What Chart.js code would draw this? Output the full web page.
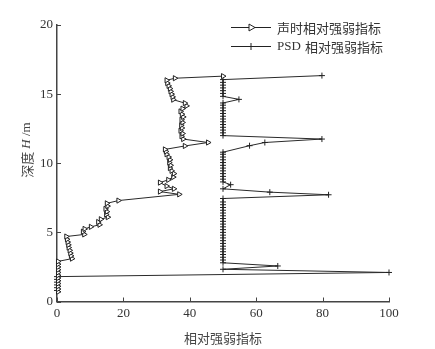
<!DOCTYPE html>
<html>
<head>
<meta charset="utf-8">
<script src="https://cdn.jsdelivr.net/npm/chart.js@4.4.1/dist/chart.umd.min.js"></script>
<style>
  body { margin: 0; background: #fff; }
</style>
</head>
<body>
<canvas id="chartDepth" width="435" height="349"></canvas>
<script>
// Profundidade (m) e índice relativo
const depthSonic = [0.7, 0.9, 1.1, 1.3, 1.5, 1.7, 1.9, 2.1, 2.3, 2.5, 2.7, 2.9,
  3.1, 3.3, 3.5, 3.7, 3.9, 4.1, 4.3, 4.5, 4.7,
  4.85, 5.05, 5.25, 5.4, 5.55, 5.75, 5.95, 6.1, 6.3, 6.5, 6.7, 6.9, 7.1, 7.3,
  7.75, 7.95, 8.15, 8.35, 8.6, 8.8, 9.0, 9.25, 9.45, 9.65, 9.85, 10.05, 10.25, 10.45, 10.65, 10.85, 11.0,
  11.25, 11.5, 11.75, 11.95, 12.15, 12.35, 12.55, 12.75, 12.95, 13.15, 13.35, 13.55, 13.75, 13.95, 14.15, 14.35,
  14.6, 14.8, 15.0, 15.2, 15.4, 15.6, 15.8, 16.0, 16.15, 16.3];
const valueSonic = [0.3, 0.3, 0.3, 0.3, 0.3, 0.3, 0.3, 0.3, 0.3, 0.3, 0.3, 0.3,
  4.5, 4.2, 4.0, 3.8, 3.5, 3.4, 3.2, 3.0, 2.8,
  8.2, 7.8, 8.3, 10.2, 12.8, 12.4, 13.2, 15.3, 14.8, 15.0, 14.6, 15.2, 15.0, 18.5,
  36.8, 31.0, 35.2, 33.0, 31.0, 33.5, 35.0, 35.2, 34.5, 34.0, 34.2, 33.8, 34.0, 33.6, 33.0, 32.8, 32.5,
  38.5, 45.5, 38.0, 37.5, 37.8, 37.2, 37.6, 37.4, 37.8, 37.5, 38.0, 37.6, 37.2, 37.8, 39.0, 38.5,
  35.0, 34.8, 34.5, 34.2, 34.0, 33.6, 33.2, 33.0, 35.5, 50];

const depthPSD = [0.8, 1.0, 1.2, 1.4, 1.6, 1.8,
  2.1, 2.33, 2.57, 2.8,
  3.0, 3.2, 3.4, 3.6, 3.8, 4.0, 4.2, 4.4, 4.6, 4.8, 5.0, 5.2, 5.4, 5.6, 5.8, 6.0, 6.2, 6.4, 6.6, 6.8, 7.0, 7.2, 7.45,
  7.72, 7.91, 8.15, 8.45,
  8.65, 8.85, 9.05, 9.25, 9.45, 9.65, 9.85, 10.05, 10.25, 10.45, 10.65, 10.8,
  11.27, 11.5, 11.75,
  12.0, 12.2, 12.4, 12.6, 12.8, 13.0, 13.2, 13.4, 13.6, 13.8, 14.0, 14.2, 14.36,
  14.62,
  14.84, 15.05, 15.25, 15.45, 15.65, 15.85, 16.05,
  16.34];
const valuePSD = [0, 0, 0, 0, 0, 0,
  100, 50, 66.5, 50,
  50, 50, 50, 50, 50, 50, 50, 50, 50, 50, 50, 50, 50, 50, 50, 50, 50, 50, 50, 50, 50, 50, 50,
  81.8, 64.1, 50, 52.3,
  50, 50, 50, 50, 50, 50, 50, 50, 50, 50, 50, 50,
  58, 62.6, 79.8,
  50, 50, 50, 50, 50, 50, 50, 50, 50, 50, 50, 50, 50,
  54.8,
  50, 50, 50, 50, 50, 50, 50,
  79.8];

const xTicks = [0, 20, 40, 60, 80, 100];
const yTicks = [0, 5, 10, 15, 20];
const seriesNames = ['声时相对强弱指标', 'PSD 相对强弱指标'];

const toPoints = (xs, ys) => xs.map((v, i) => ({ x: v, y: ys[i] }));

const fontSerif = "'Liberation Serif', 'DejaVu Serif', serif";
const fontCJK = "'Noto Sans CJK SC', sans-serif";

// Plugin: ticks para dentro, títulos dos eixos e legenda com linha + marcador
const extrasPlugin = {
  id: 'extras',
  afterDraw(chart) {
    const ctx = chart.ctx;
    const xs = chart.scales.x;
    const ys = chart.scales.y;
    const area = chart.chartArea;
    ctx.save();
    ctx.strokeStyle = '#444';
    ctx.lineWidth = 1;
    xTicks.forEach(t => {
      const px = Math.round(xs.getPixelForValue(t)) + 0.5;
      ctx.beginPath();
      ctx.moveTo(px, area.bottom);
      ctx.lineTo(px, area.bottom - 4);
      ctx.stroke();
    });
    yTicks.forEach(t => {
      const py = Math.round(ys.getPixelForValue(t)) + 0.5;
      ctx.beginPath();
      ctx.moveTo(area.left, py);
      ctx.lineTo(area.left + 4, py);
      ctx.stroke();
    });

    // título do eixo X
    ctx.fillStyle = '#444';
    ctx.font = '13px ' + fontCJK;
    ctx.textAlign = 'center';
    ctx.textBaseline = 'middle';
    ctx.fillText('相对强弱指标', (area.left + area.right) / 2, 338);

    // título do eixo Y: 深度 H /m
    ctx.translate(27, 150);
    ctx.rotate(-Math.PI / 2);
    const parts = [
      { t: '深度 ', f: '13px ' + fontCJK },
      { t: 'H', f: 'italic 13px ' + fontSerif },
      { t: ' /m', f: '13px ' + fontSerif },
    ];
    let total = 0;
    parts.forEach(p => { ctx.font = p.f; p.w = ctx.measureText(p.t).width; total += p.w; });
    let cx = -total / 2;
    ctx.textAlign = 'left';
    parts.forEach(p => { ctx.font = p.f; ctx.fillText(p.t, cx, 0); cx += p.w; });
    ctx.setTransform(1, 0, 0, 1, 0, 0);

    // legenda
    const rows = [
      { y: 27, style: 'triangle', rot: 90, r: 4 },
      { y: 46, style: 'cross', rot: 0, r: 3.5 },
    ];
    rows.forEach((row, i) => {
      ctx.strokeStyle = '#222';
      ctx.lineWidth = 1;
      ctx.beginPath();
      ctx.moveTo(231, row.y + 0.5);
      ctx.lineTo(271, row.y + 0.5);
      ctx.stroke();
      ctx.fillStyle = '#fff';
      Chart.helpers.drawPoint(ctx, { pointStyle: row.style, radius: row.r, rotation: row.rot, borderWidth: 1 }, 251, row.y + 0.5);
      ctx.fillStyle = '#333';
      ctx.textAlign = 'left';
      ctx.textBaseline = 'middle';
      if (i === 1) {
        ctx.font = '13px ' + fontSerif;
        ctx.fillText('PSD', 277, row.y + 1);
        const w = ctx.measureText('PSD ').width;
        ctx.font = '13px ' + fontCJK;
        ctx.fillText('相对强弱指标', 277 + w + 1, row.y + 1);
      } else {
        ctx.font = '13px ' + fontCJK;
        ctx.fillText(seriesNames[i], 277, row.y + 1);
      }
    });
    ctx.restore();
  }
};

const dataDepth = {
  datasets: [
    {
      label: seriesNames[0],
      data: toPoints(valueSonic, depthSonic),
      showLine: true,
      borderColor: '#2a2a2a',
      borderWidth: 1,
      pointStyle: 'triangle',
      rotation: 90,
      pointRadius: 3,
      pointBorderWidth: 1,
      pointBorderColor: '#222',
      pointBackgroundColor: '#fff',
      clip: false,
    },
    {
      label: seriesNames[1],
      data: toPoints(valuePSD, depthPSD),
      showLine: true,
      borderColor: '#2a2a2a',
      borderWidth: 1,
      pointStyle: 'cross',
      pointRadius: 3,
      pointBorderWidth: 1,
      pointBorderColor: '#222',
      clip: false,
    },
  ],
};

const configDepth = {
  type: 'scatter',
  data: dataDepth,
  options: {
    responsive: false,
    animation: false,
    layout: { padding: { top: 25, right: 46, bottom: 0, left: 0 } },
    plugins: {
      legend: { display: false },
      tooltip: { enabled: false },
    },
    scales: {
      x: {
        type: 'linear',
        min: 0,
        max: 100,
        afterBuildTicks: (s) => { s.ticks = xTicks.map(v => ({ value: v })); },
        afterFit: (s) => { s.height = 47.5; },
        grid: { drawOnChartArea: false, drawTicks: false },
        border: { display: true, color: '#444', width: 1.5 },
        ticks: { color: '#333', padding: 4, font: { family: fontSerif, size: 13 } },
      },
      y: {
        type: 'linear',
        min: 0,
        max: 20,
        afterBuildTicks: (s) => { s.ticks = yTicks.map(v => ({ value: v })); },
        afterFit: (s) => { s.width = 57; },
        grid: { drawOnChartArea: false, drawTicks: false },
        border: { display: true, color: '#444', width: 1.5 },
        ticks: { color: '#333', padding: 4, font: { family: fontSerif, size: 13 } },
      },
    },
  },
  plugins: [extrasPlugin],
};

new Chart(document.getElementById('chartDepth').getContext('2d'), configDepth);
</script>
</body>
</html>
